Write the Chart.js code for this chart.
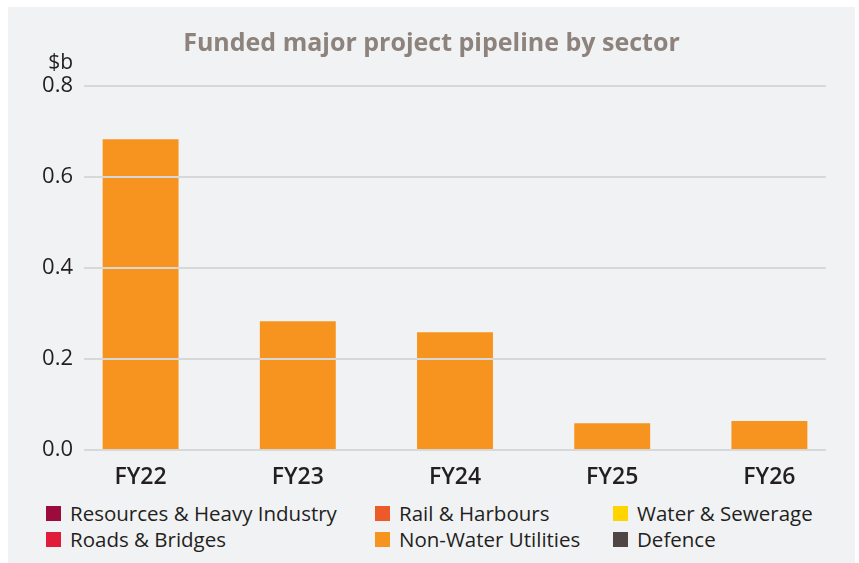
<!DOCTYPE html>
<html>
<head>
<meta charset="utf-8">
<script src="https://cdn.jsdelivr.net/npm/chart.js@4/dist/chart.umd.min.js"></script>
<style>
  body { margin: 0; background: #fff; font-family: "Open Sans", sans-serif; }
  #panel { position: absolute; left: 8px; top: 7px; width: 847px; height: 556px; background: #f1f2f4; }
  #wrap { position: absolute; left: 0; top: 0; width: 847px; height: 490px; }
  #legend { position: absolute; left: 38px; top: 493px; display: grid;
    grid-template-columns: 329px 238px 230px; grid-auto-rows: 26px; }
  .item { display: flex; align-items: center; font-size: 20.5px; color: #231f20; white-space: nowrap; }
  .box { width: 15px; height: 15px; margin-right: 9px; flex: none; }
</style>
</head>
<body>
<div id="panel">
  <div id="wrap"><canvas id="pipelineChart"></canvas></div>
  <div id="legend"></div>
</div>
<script>
const years = ['FY22', 'FY23', 'FY24', 'FY25', 'FY26'];
const sectors = ['Resources & Heavy Industry', 'Rail & Harbours', 'Water & Sewerage',
                 'Roads & Bridges', 'Non-Water Utilities', 'Defence'];
const colours = ['#9b0b3c', '#ec5a2a', '#ffd400', '#e11b3a', '#f7941f', '#4f4542'];
// $b per year, one array per sector
const resources = [0, 0, 0, 0, 0];
const rail = [0, 0, 0, 0, 0];
const water = [0, 0, 0, 0, 0];
const roads = [0, 0, 0, 0, 0];
const nonWater = [0.683, 0.283, 0.259, 0.059, 0.064];
const defence = [0, 0, 0, 0, 0];
const yTicks = [0, 0.2, 0.4, 0.6, 0.8];

const series = [resources, rail, water, roads, nonWater, defence];

const unitLabel = {
  id: 'unitLabel',
  afterDraw(chart) {
    const c = chart.ctx;
    const y = chart.scales.y.getPixelForValue(yTicks[yTicks.length - 1]);
    c.save();
    c.font = '500 21px "Open Sans"';
    c.fillStyle = '#231f20';
    c.textAlign = 'right';
    c.textBaseline = 'middle';
    c.fillText('$b', chart.chartArea.left - 11, y - 23);
    c.restore();
  }
};

const ctx = document.getElementById('pipelineChart').getContext('2d');
const chart = new Chart(ctx, {
  type: 'bar',
  data: {
    datasets: sectors.map((name, i) => ({
      label: name,
      data: series[i].map((v, j) => ({ x: j, y: v })),
      backgroundColor: colours[i],
      borderWidth: 0,
      categoryPercentage: 1,
      barPercentage: 0.483
    }))
  },
  options: {
    responsive: true,
    maintainAspectRatio: false,
    animation: false,
    layout: { padding: { left: 29, right: 29, top: 0, bottom: 0 } },
    plugins: {
      legend: { display: false },
      tooltip: { enabled: false },
      title: {
        display: true,
        text: 'Funded major project pipeline by sector',
        color: '#8d827c',
        font: { family: 'Open Sans', size: 25, weight: 'bold' },
        padding: { top: 22, bottom: 27 }
      }
    },
    scales: {
      x: {
        type: 'linear',
        stacked: true,
        offset: false,
        min: -0.36,
        max: 4.36,
        afterBuildTicks: s => { s.ticks = years.map((_, i) => ({ value: i })); },
        afterFit: s => { s.height = 47; },
        grid: { display: false },
        border: { display: false },
        ticks: {
          callback: v => years[v],
          color: '#231f20',
          padding: 6,
          font: { family: 'Open Sans', size: 23, weight: '600' }
        }
      },
      y: {
        stacked: true,
        min: 0,
        max: 0.8,
        afterBuildTicks: s => { s.ticks = yTicks.map(v => ({ value: v })); },
        afterFit: s => { s.width = 47; },
        grid: { color: '#d7d8da', lineWidth: 2, drawTicks: false, z: 1 },
        border: { display: false },
        ticks: {
          callback: v => v.toFixed(1),
          color: '#231f20',
          padding: 11,
          font: { family: 'Open Sans', size: 22, weight: '500' }
        }
      }
    }
  },
  plugins: [unitLabel]
});

const legend = document.getElementById('legend');
chart.data.datasets.forEach(ds => {
  const item = document.createElement('div');
  item.className = 'item';
  item.innerHTML = '<span class="box" style="background:' + ds.backgroundColor + '"></span>' + ds.label;
  legend.appendChild(item);
});
</script>
</body>
</html>
